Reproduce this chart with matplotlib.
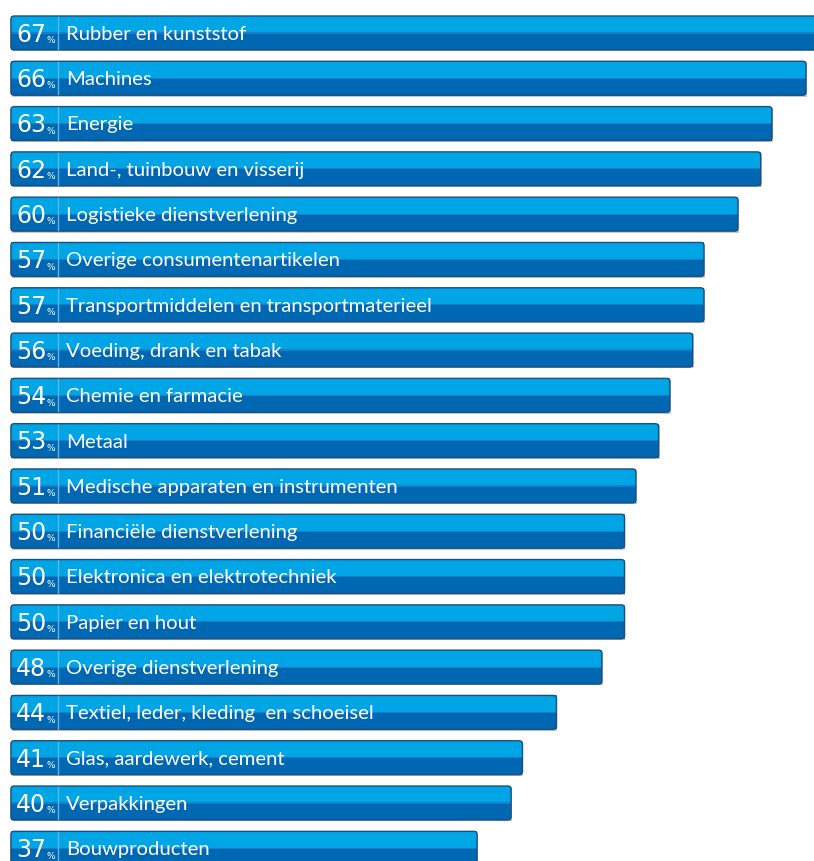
import matplotlib
matplotlib.use("Agg")
import matplotlib.pyplot as plt
from matplotlib.patches import FancyBboxPatch

# sector names and share (%) as shown on the bars
sectors = [
    "Rubber en kunststof", "Machines", "Energie", "Land-, tuinbouw en visserij",
    "Logistieke dienstverlening", "Overige consumentenartikelen",
    "Transportmiddelen en transportmaterieel", "Voeding, drank en tabak",
    "Chemie en farmacie", "Metaal", "Medische apparaten en instrumenten",
    "Financiële dienstverlening", "Elektronica en elektrotechniek",
    "Papier en hout", "Overige dienstverlening",
    "Textiel, leder, kleding  en schoeisel", "Glas, aardewerk, cement",
    "Verpakkingen", "Bouwproducten",
]
shares = [67, 66, 63, 62, 60, 57, 57, 56, 54, 53, 51, 50, 50, 50, 48, 44, 41, 40, 37]

LIGHT = "#00a5e6"
DARK = "#0067b2"
EDGE = "#1b4f80"
BASE = -4.1     # bars start a bit left of zero to leave room for the number
H = 0.75

fig = plt.figure(figsize=(8.14, 8.61), dpi=100)
ax = fig.add_axes([0, 0, 1, 1])
ax.set_xlim(-5.06, 66.7)
ax.set_ylim(18.28, -0.728)
ax.axis("off")

ys = list(range(len(shares)))
widths = [v - BASE for v in shares]

# soft grey shadow, then two-tone fill
ax.barh([y + 0.03 for y in ys], widths, left=BASE + 0.08, height=H,
        color="#c8c8c8", zorder=1)
ax.barh([y - H / 4 for y in ys], widths, left=BASE, height=H / 2,
        color=LIGHT, zorder=2)
ax.barh([y + H / 4 for y in ys], widths, left=BASE, height=H / 2,
        color=DARK, zorder=2)
ax.barh(ys, widths, left=BASE, height=0.025, color="#1680c6", zorder=2)

for y, v, name in zip(ys, shares, sectors):
    outline = FancyBboxPatch((BASE, y - H / 2), v - BASE, H,
                             boxstyle="round,pad=0,rounding_size=0.3",
                             mutation_aspect=0.25, fill=False,
                             edgecolor=EDGE, linewidth=1.0, zorder=3)
    ax.add_patch(outline)
    # separator between number and label
    ax.plot([0.05, 0.05], [y - H / 2 + 0.02, y + H / 2 - 0.02],
            color="#5fb6e6", linewidth=1.0, zorder=3)
    ax.text(-1.0, y + 0.04, str(v), color="white", fontsize=17,
            fontfamily="DejaVu Sans", ha="right", va="center", zorder=4)
    ax.text(-0.95, y + 0.17, "%", color="white", fontsize=6.5,
            ha="left", va="center", zorder=4)
    ax.text(0.75, y + 0.03, name, color="white", fontsize=14.6,
            fontfamily="Lato", ha="left", va="center", zorder=4)

fig.savefig("out.png", dpi=100)
